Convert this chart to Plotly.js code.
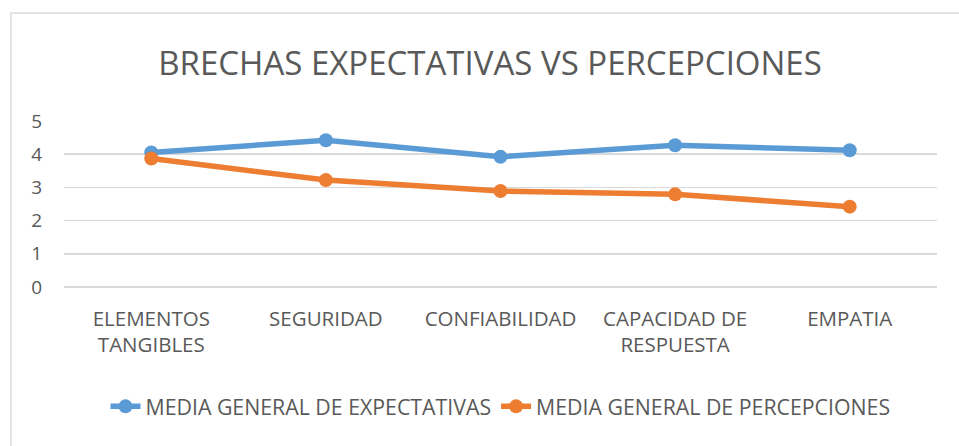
<!DOCTYPE html>
<html>
<head>
<meta charset="utf-8">
<script src="https://cdn.plot.ly/plotly-3.0.1.min.js"></script>
<style>
  html, body { margin:0; padding:0; background:#ffffff; }
  #wrap { position:relative; width:959px; height:446px; overflow:hidden; }
  #chart { width:959px; height:446px; }
  #frame { position:absolute; left:10px; top:12px; width:960px; height:440px;
           border-left:2px solid #e3e3e3; border-top:2px solid #e3e3e3; pointer-events:none; }
</style>
</head>
<body>
<div id="wrap">
  <div id="chart"></div>
  <div id="frame"></div>
</div>
<script>
const categories = ['ELEMENTOS<br>TANGIBLES', 'SEGURIDAD', 'CONFIABILIDAD', 'CAPACIDAD DE<br>RESPUESTA', 'EMPATIA'];
const expectativas = [4.05, 4.42, 3.92, 4.27, 4.12];
const percepciones = [3.87, 3.22, 2.89, 2.79, 2.42];
const seriesNames = ['MEDIA GENERAL DE EXPECTATIVAS', 'MEDIA GENERAL DE PERCEPCIONES'];
const yTicks = [0, 1, 2, 3, 4, 5];

const FONT = 'Open Sans, sans-serif';
const TXT = '#595959';

const traces = [
  { x: categories, y: expectativas, name: seriesNames[0], type: 'scatter', mode: 'lines+markers',
    line: { color: '#5B9BD5', width: 5.5 }, marker: { color: '#5B9BD5', size: 14 } },
  { x: categories, y: percepciones, name: seriesNames[1], type: 'scatter', mode: 'lines+markers',
    line: { color: '#ED7D31', width: 5.5 }, marker: { color: '#ED7D31', size: 14 } }
];

const layout = {
  width: 959, height: 446,
  margin: { l: 64, r: 22, t: 121, b: 159 },
  paper_bgcolor: '#ffffff', plot_bgcolor: '#ffffff',
  font: { family: FONT, color: TXT },
  title: { text: 'BRECHAS EXPECTATIVAS VS PERCEPCIONES', font: { family: FONT, size: 33, color: TXT },
           x: 0.511, xanchor: 'center', y: 0.858, yanchor: 'middle' },
  showlegend: true,
  legend: { orientation: 'h', x: 0.5, xanchor: 'center', y: -0.72, yanchor: 'middle',
            font: { family: FONT, size: 21.3, color: TXT }, itemwidth: 30, tracegroupgap: 0 },
  xaxis: { type: 'category', range: [-0.5, 4.5], showgrid: false, zeroline: false, showline: false,
           ticks: '', tickfont: { family: FONT, size: 20.5, color: TXT }, ticklabelstandoff: 17, fixedrange: true },
  yaxis: { range: [0, 5], tickvals: yTicks, ticktext: yTicks.map(String), showgrid: true,
           gridcolor: '#d9d9d9', gridwidth: 1.5, zeroline: true, zerolinecolor: '#d9d9d9', zerolinewidth: 1.5,
           showline: false, ticks: '',
           tickfont: { family: FONT, size: 19, color: TXT }, ticklabelstandoff: 21, fixedrange: true }
};

Plotly.newPlot('chart', traces, layout, { displayModeBar: false, staticPlot: true });
</script>
</body>
</html>
